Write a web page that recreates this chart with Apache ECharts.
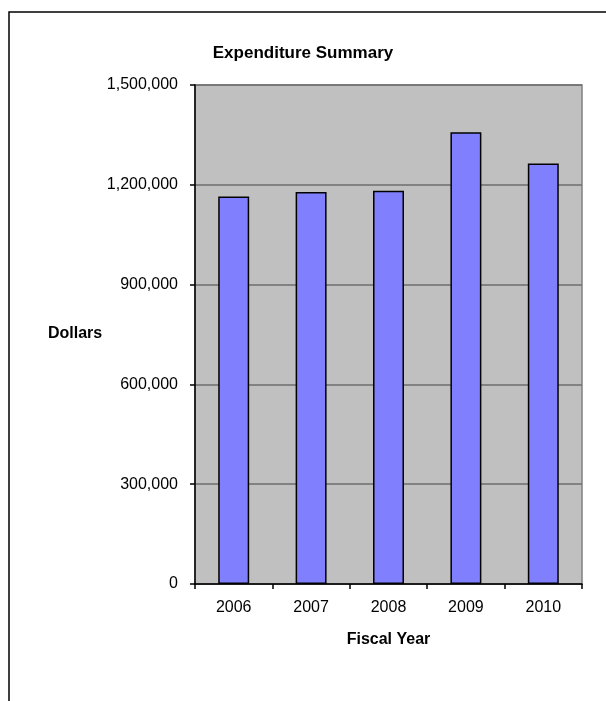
<!DOCTYPE html>
<html>
<head>
<meta charset="utf-8">
<script src="https://cdn.jsdelivr.net/npm/echarts@6/dist/echarts.min.js"></script>
<style>
  html, body { margin: 0; padding: 0; background: #ffffff; }
  #chart { width: 606px; height: 701px; }
</style>
</head>
<body>
<div id="chart"></div>
<script>
// Fiscal years and total spending per year (dollars)
const fiscalYears = ['2006', '2007', '2008', '2009', '2010'];
const expenditures = [1165000, 1178000, 1182000, 1358000, 1264000];
const dollarTicks = { min: 0, max: 1500000, step: 300000 };

const chart = echarts.init(document.getElementById('chart'), null, { renderer: 'canvas' });

const FONT = 'Liberation Sans, Arial, sans-serif';

chart.setOption({
  animation: false,
  backgroundColor: '#ffffff',
  title: {
    text: 'Expenditure Summary',
    left: 'center',
    top: 45,
    padding: 0,
    textStyle: { fontFamily: FONT, fontSize: 17, fontWeight: 'bold', color: '#000000' }
  },
  graphic: [
    {
      // outer chart frame (open at the right and bottom edges)
      type: 'rect',
      shape: { x: 9, y: 12, width: 640, height: 740 },
      style: { fill: 'none', stroke: '#000000', lineWidth: 1.5 },
      silent: true,
      z: -1
    },
    {
      type: 'text',
      left: 48,
      top: 326,
      style: { text: 'Dollars', fontFamily: FONT, fontSize: 16, fontWeight: 'bold', fill: '#000000' }
    }
  ],
  grid: {
    left: 195,
    top: 85,
    right: 24,
    bottom: 117,
    show: true,
    backgroundColor: '#c0c0c0',
    borderColor: '#808080',
    borderWidth: 1.5
  },
  xAxis: {
    type: 'category',
    data: fiscalYears,
    boundaryGap: true,
    name: 'Fiscal Year',
    nameLocation: 'middle',
    nameGap: 56,
    nameTextStyle: { fontFamily: FONT, fontSize: 16, fontWeight: 'bold', color: '#000000', verticalAlign: 'middle' },
    axisLine: { show: true, lineStyle: { color: '#000000', width: 1.5 } },
    axisTick: { show: true, inside: false, length: 5, lineStyle: { color: '#000000', width: 1.5 } },
    axisLabel: { margin: 16, fontFamily: FONT, fontSize: 16, color: '#000000' },
    splitLine: { show: false }
  },
  yAxis: {
    type: 'value',
    min: dollarTicks.min,
    max: dollarTicks.max,
    interval: dollarTicks.step,
    axisLine: { show: true, lineStyle: { color: '#000000', width: 1.5 } },
    axisTick: { show: true, inside: false, length: 5, lineStyle: { color: '#000000', width: 1.5 } },
    axisLabel: {
      margin: 17,
      fontFamily: FONT,
      fontSize: 16,
      color: '#000000',
      formatter: v => v.toLocaleString('en-US')
    },
    splitLine: { show: true, lineStyle: { color: '#6e6e6e', width: 1.5 } }
  },
  series: [
    {
      type: 'bar',
      data: expenditures,
      barWidth: '40%',
      itemStyle: { color: '#8080ff', borderColor: '#000000', borderWidth: 1.5 }
    }
  ]
});
</script>
</body>
</html>
